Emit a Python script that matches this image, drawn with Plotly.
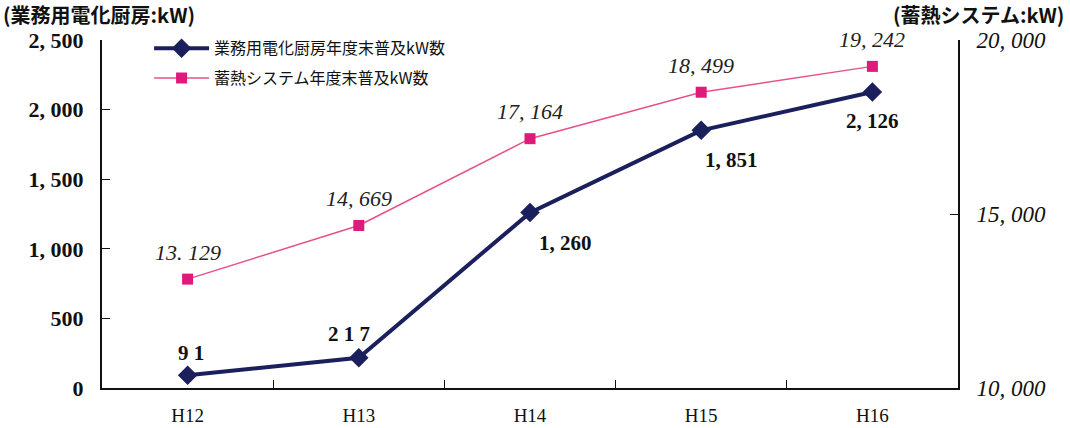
import plotly.graph_objects as go

categories = ["H12", "H13", "H14", "H15", "H16"]
kitchen_kw = [91, 217, 1260, 1851, 2126]
storage_kw = [13129, 14669, 17164, 18499, 19242]
kitchen_labels = ["9 1", "2 1 7", "1, 260", "1, 851", "2, 126"]
storage_labels = ["13. 129", "14, 669", "17, 164", "18, 499", "19, 242"]
left_ticks = [0, 500, 1000, 1500, 2000, 2500]
left_ticktext = ["0", "500", "1, 000", "1, 500", "2, 000", "2, 500"]
right_ticks = [10000, 15000, 20000]
right_ticktext = ["10, 000", "15, 000", "20, 000"]

NAVY = "#1b1f5c"
PINK = "#e8508a"
PINK_M = "#e0197d"
SERIF = "Liberation Serif, DejaVu Serif, serif"
CJK = "Noto Sans CJK JP"

fig = go.Figure()
fig.add_trace(go.Scatter(
    x=categories, y=kitchen_kw, name="業務用電化厨房年度末普及kW数",
    mode="lines+markers", line=dict(color=NAVY, width=4),
    marker=dict(symbol="diamond", size=15, color=NAVY),
    legendgroup="a", yaxis="y"))
fig.add_trace(go.Scatter(
    x=categories, y=storage_kw, name="蓄熱システム年度末普及kW数",
    mode="lines+markers", line=dict(color=PINK, width=1.5),
    marker=dict(symbol="square", size=11, color=PINK_M),
    legendgroup="b", yaxis="y2"))

# data labels
k_shift = [(3, 22), (-10, 24), (35, -30), (30, -30), (0, -29)]
for c, v, t, (dx, dy) in zip(categories, kitchen_kw, kitchen_labels, k_shift):
    fig.add_annotation(x=c, y=v, xref="x", yref="y", text=t, showarrow=False,
                       xshift=dx, yshift=dy,
                       font=dict(family=SERIF, size=21, color="#111", weight="bold"))
for c, v, t in zip(categories, storage_kw, storage_labels):
    fig.add_annotation(x=c, y=v, xref="x", yref="y2", text=t, showarrow=False,
                       yshift=27,
                       font=dict(family=SERIF, size=22, color="#222", style="italic"))

# axis unit titles
fig.add_annotation(x=0, y=1, xref="paper", yref="paper", xanchor="left", yanchor="bottom",
                   text="(業務用電化厨房:kW)", showarrow=False, xshift=-101, yshift=9,
                   font=dict(family=CJK, size=20, color="#111", weight="bold"))
fig.add_annotation(x=1, y=1, xref="paper", yref="paper", xanchor="right", yanchor="bottom",
                   text="(蓄熱システム:kW)", showarrow=False, xshift=108, yshift=9,
                   font=dict(family=CJK, size=20, color="#111", weight="bold"))

fig.update_layout(
    width=1070, height=428,
    margin=dict(l=102, r=112, t=40, b=40),
    paper_bgcolor="white", plot_bgcolor="white",
    showlegend=True,
    legend=dict(x=0.055, y=1.025, xanchor="left", yanchor="top",
                bgcolor="rgba(0,0,0,0)", traceorder="grouped", tracegroupgap=6,
                itemwidth=55,
                font=dict(family=CJK, size=16, color="#111")),
    xaxis=dict(type="category", range=[-0.5, 4.5], showline=True, linecolor="#111",
               linewidth=2, ticks="inside", tickson="boundaries", ticklen=8,
               tickcolor="#111", showgrid=False, zeroline=False, automargin=False,
               tickfont=dict(family=SERIF, size=19, color="#111"), ticklabelstandoff=9),
    yaxis=dict(range=[0, 2500], tickvals=left_ticks, ticktext=left_ticktext,
               showline=True, linecolor="#111", linewidth=2, ticks="inside",
               ticklen=8, tickcolor="#111", showgrid=False, zeroline=False,
               automargin=False,
               tickfont=dict(family=SERIF, size=22, color="#111", weight="bold"),
               ticklabelstandoff=12),
    yaxis2=dict(range=[10000, 20000], tickvals=right_ticks, ticktext=right_ticktext,
                overlaying="y", side="right", showline=True, linecolor="#111",
                linewidth=2, ticks="inside", ticklen=8, tickcolor="#111",
                showgrid=False, zeroline=False, automargin=False,
                tickfont=dict(family=SERIF, size=23, color="#111", style="italic"),
                ticklabelstandoff=12),
)

fig.write_html("out.html")
